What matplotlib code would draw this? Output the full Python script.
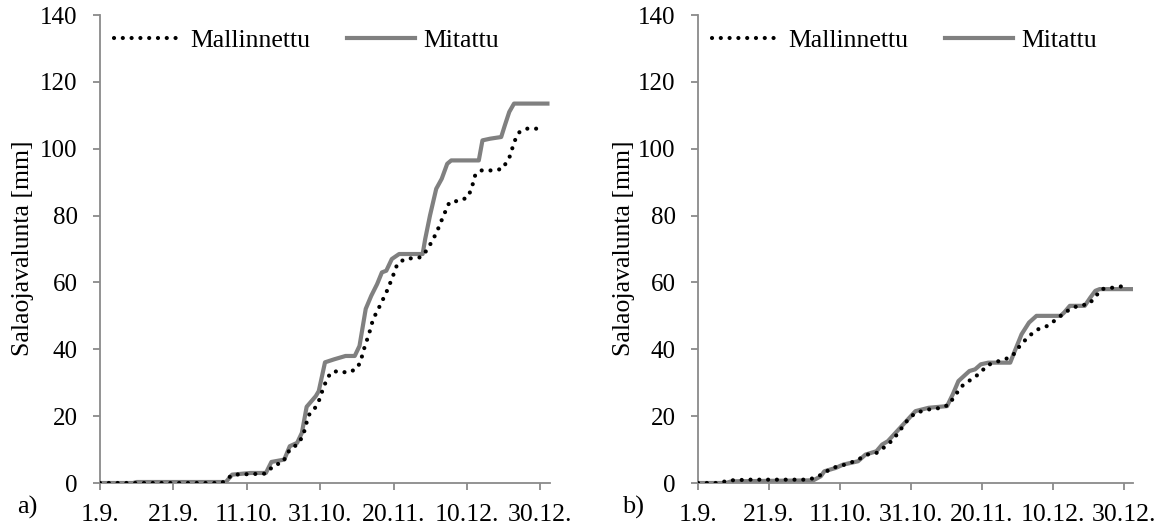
import matplotlib
matplotlib.use("Agg")
import matplotlib.pyplot as plt

plt.rcParams['font.family'] = ['Liberation Serif', 'DejaVu Serif']

# x-axis: days since 1.9.
tick_days = [0, 20, 40, 60, 80, 100, 120]
tick_labels = ["1.9.", "21.9.", "11.10.", "31.10.", "20.11.", "10.12.", "30.12."]
y_ticks = [0, 20, 40, 60, 80, 100, 120, 140]

# Panel a
a_mit_x = [0, 9, 10, 34.3, 36, 41, 45.2, 46.7, 50.2, 51.7, 53.7, 55, 56.3, 58.8, 59.6, 61.3, 63.8,
           66.9, 69.4, 70.7, 72.4, 73.9, 75.5, 76.8, 78, 79.5, 81.5, 87.9, 88.6, 89.9, 91.6, 93.1,
           94.6, 95.7, 103.2, 104.2, 106.3, 109.3, 110.3, 111.5, 112.8, 121.9]
a_mit_y = [0, 0, 0.3, 0.3, 2.5, 3.0, 3.0, 6.3, 7.0, 11, 12, 15, 22.8, 26, 27.5, 36.1, 37,
           38, 38, 41, 52.1, 56, 59.5, 63, 63.5, 67, 68.5, 68.5, 73, 80, 88, 91,
           95.5, 96.5, 96.5, 102.5, 103, 103.5, 107, 111, 113.5, 113.5]
a_mod_x = [0, 33, 34, 36, 45, 47.7, 49.7, 51.7, 53.7, 55.3, 56.8, 58.6, 59.8, 61, 62.8, 64.8, 67.4,
           69.7, 70.9, 71.9, 73.4, 74.4, 75.8, 78, 79.5, 81, 83, 87.2, 88.6, 90.6, 92.1, 93.6,
           95.2, 98.2, 100.2, 101.2, 102.2, 103.7, 107.2, 109.7, 111.8, 112.8, 114.3, 116.4, 120.4]
a_mod_y = [0, 0, 0.5, 2.5, 2.8, 5.5, 6, 10, 11.5, 14, 20.2, 22.5, 25, 29, 33, 33.5, 33,
           34, 36, 40, 45, 49, 52, 57, 61, 65.5, 67, 67.5, 69, 72.5, 76, 80,
           84, 84.5, 85.5, 88, 92, 93.5, 93.5, 94, 98, 102, 105, 106, 106]

# Panel b
b_mit_x = [0, 7.9, 9.4, 32.5, 34.6, 35.6, 38.8, 40.9, 45.1, 47.2, 50.3, 51.9, 53.5, 56.1, 58.7,
           61.3, 65, 70.2, 71.8, 73.4, 76.5, 78.1, 79.7, 81.8, 88, 89.1, 91.2, 93.3, 95.4, 102.2,
           103.2, 104.8, 109, 110.6, 112, 113.2, 122.1]
b_mit_y = [0, 0, 0.5, 0.8, 2, 3.5, 4.5, 5.5, 6.5, 8.5, 9.5, 11.5, 12.5, 15.5, 18.5,
           21.5, 22.5, 23, 26.5, 30.5, 33.5, 34, 35.5, 36, 36, 39, 44.5, 48, 50, 50,
           51, 53, 53, 55.5, 57.5, 58, 58]
b_mod_x = [0, 5.2, 9.4, 14.7, 30.4, 33, 35.6, 37.7, 39.8, 42.9, 45.1, 47.7, 50.3, 52.9, 55, 57.1,
           59.2, 61.3, 65, 68.7, 70.8, 72.3, 74.4, 77, 79.7, 81.2, 83.3, 86.5, 88.6, 90.7, 93.3,
           95.9, 98.5, 101.7, 103.2, 107, 110.2, 112.2, 113.7, 117.4, 120.5]
b_mod_y = [0, 0, 0.8, 1, 1, 1.5, 3, 4.5, 5, 6, 7, 8.5, 9, 11, 13, 16,
           19, 21, 22, 22.5, 23.5, 26, 29, 31, 33, 35, 36, 37, 38, 41, 44,
           46, 47, 49.5, 51, 53, 53.5, 56, 58, 58.5, 59]

W, H = 1166, 531
panels = [
    dict(mod_x=a_mod_x, mod_y=a_mod_y, mit_x=a_mit_x, mit_y=a_mit_y, label="a)",
         left=100, right=550, lab_x=17, ylab_x=23),
    dict(mod_x=b_mod_x, mod_y=b_mod_y, mit_x=b_mit_x, mit_y=b_mit_y, label="b)",
         left=698, right=1133, lab_x=622, ylab_x=624),
]
top_px, bot_px = 15, 483

axis_col = "#8a8a8a"
fig = plt.figure(figsize=(W / 100, H / 100), dpi=100)
for p in panels:
    ax = fig.add_axes([p["left"] / W, 1 - bot_px / H, (p["right"] - p["left"]) / W,
                       (bot_px - top_px) / H])
    ax.plot(p["mod_x"], p["mod_y"], color="black", lw=3.0, linestyle=(0, (0.01, 2.1)),
            dash_capstyle="round", label="Mallinnettu", zorder=3)
    ax.plot(p["mit_x"], p["mit_y"], color="#808080", lw=3.0, label="Mitattu", zorder=2,
            solid_joinstyle="round")
    ax.set_xlim(0, 122.6)
    ax.set_ylim(0, 140)
    ax.set_xticks(tick_days)
    ax.set_xticklabels(tick_labels)
    ax.set_yticks(y_ticks)
    for s in ["top", "right"]:
        ax.spines[s].set_visible(False)
    for s in ["left", "bottom"]:
        ax.spines[s].set_color(axis_col)
        ax.spines[s].set_linewidth(1.3)
    ax.tick_params(axis="both", colors=axis_col, labelcolor="black", direction="out",
                   length=5, width=1.3, labelsize=18)
    ax.tick_params(axis="x", pad=10, labelsize=18.5)
    ax.tick_params(axis="y", pad=11)
    ax.legend(loc="upper left", ncol=2, frameon=False, fontsize=18.5,
              handlelength=2.65, handletextpad=0.33, columnspacing=1.4,
              borderpad=0.0, borderaxespad=0.55)
    fig.text(p["ylab_x"] / W, 1 - 248 / H, "Salaojavalunta [mm]", fontsize=18.5,
             rotation=90, ha="center", va="center")
    fig.text(p["lab_x"] / W, 1 - 507 / H, p["label"], fontsize=19, va="center", ha="left")

fig.savefig("out.png", dpi=100)
